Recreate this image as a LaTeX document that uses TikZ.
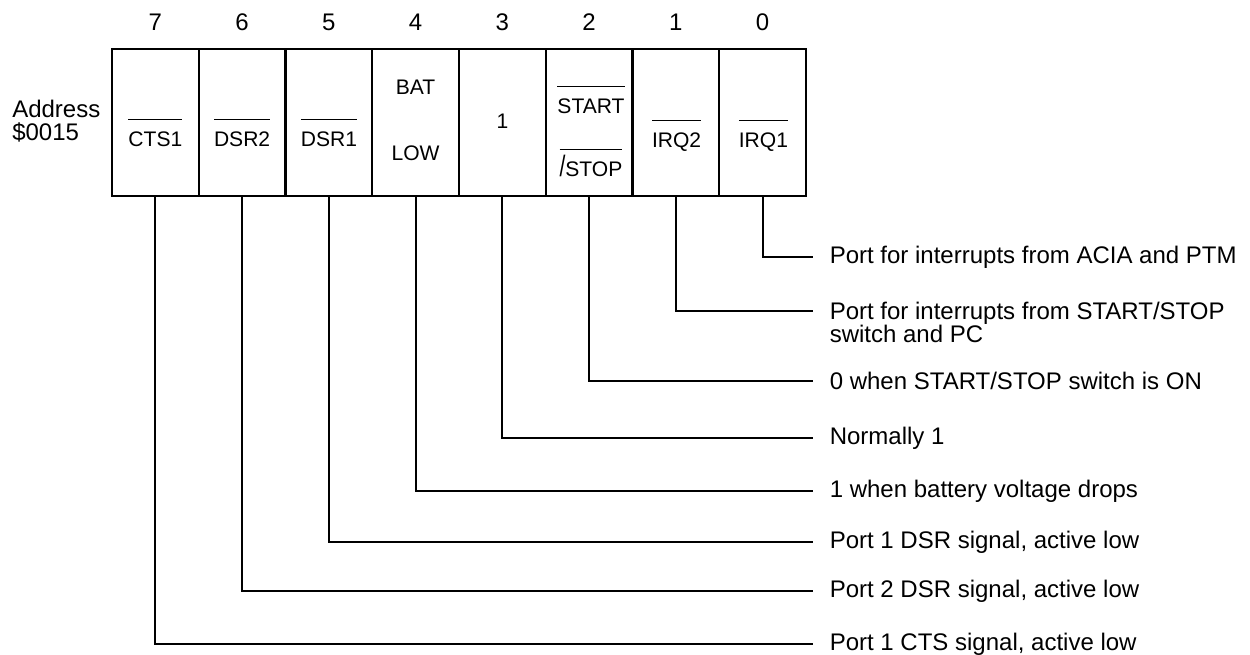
\documentclass[tikz,border=0pt]{standalone}
\usepackage{fontspec}
\usepackage{graphicx}
\setmainfont{Liberation Sans}
\usetikzlibrary{positioning}
\newcommand\barred[1]{\setbox0=\hbox{#1}\rlap{\rule[1.24em]{\wd0}{0.8pt}}\box0}
\tikzset{
  cell/.style={
    draw, line width=1.6pt, minimum width=65.06pt, minimum height=110.25pt,
    inner sep=0pt
  },
  bitnum/.style={font=\fontsize{18}{18}\selectfont, inner sep=0pt},
  lbl/.style={font=\fontsize{15.8}{18}\selectfont, inner sep=0pt, anchor=base},
  desc/.style={
    anchor=west, inner xsep=12.4pt, inner ysep=0pt, align=left,
    font=\fontsize{18}{17.25}\selectfont
  },
  wire/.style={line width=1.6pt}
}

\begin{document}
\begin{tikzpicture}[x=0.75pt,y=-0.75pt]
    \useasboundingbox (0,0) rectangle (1250,654);
    \foreach \b in {0,...,7} {
      \node[cell] (b\b) at ({762.6-86.75*\b},122.5) {};
      \node[bitnum] (n\b) at ({762.6-86.75*\b},22) {\b};
    }
    \node[desc, inner xsep=0pt] (addr) at (12,121.5) {Address\\\$0015};
    % register contents
    \node[lbl] (l7) at (155.4,146) {\barred{CTS1}};
    \node[lbl] (l6) at (242.1,146) {\barred{DSR2}};
    \node[lbl] (l5) at (328.9,146) {\barred{DSR1}};
    \node[lbl] (l4a) at (415.6,94) {BAT};
    \node[lbl] (l4b) at (415.6,160) {LOW};
    \node[lbl] (l3) at (502.4,128) {1};
    \node[lbl] (l2a) at (591,113) {\barred{START}};
    \node[lbl] (l2b) at (591,176) {\barred{\scalebox{1}[1.4]{/}STOP}};
    \node[lbl] (l1) at (676.6,147) {\barred{IRQ2}};
    \node[lbl] (l0) at (763.4,147) {\barred{IRQ1}};
    % bit descriptions
    \node[desc] (d0) at (813,257) {Port for interrupts from ACIA and PTM};
    \node[desc] (d1) at (813,322.5) {Port for interrupts from START/STOP\\switch and PC};
    \node[desc] (d2) at (813,381) {0 when START/STOP switch is ON};
    \node[desc] (d3) at (813,438) {Normally 1};
    \node[desc] (d4) at (813,491) {1 when battery voltage drops};
    \node[desc] (d5) at (813,542) {Port 1 DSR signal, active low};
    \node[desc] (d6) at (813,591) {Port 2 DSR signal, active low};
    \node[desc] (d7) at (813,644) {Port 1 CTS signal, active low};
    \draw[wire] (b0.south) |- (d0.west);
    \draw[wire] (b1.south) |- ([yshift=8.6pt]d1.west);
    \foreach \b in {2,...,7}
      \draw[wire] (b\b.south) |- (d\b.west);
\end{tikzpicture}
\end{document}
